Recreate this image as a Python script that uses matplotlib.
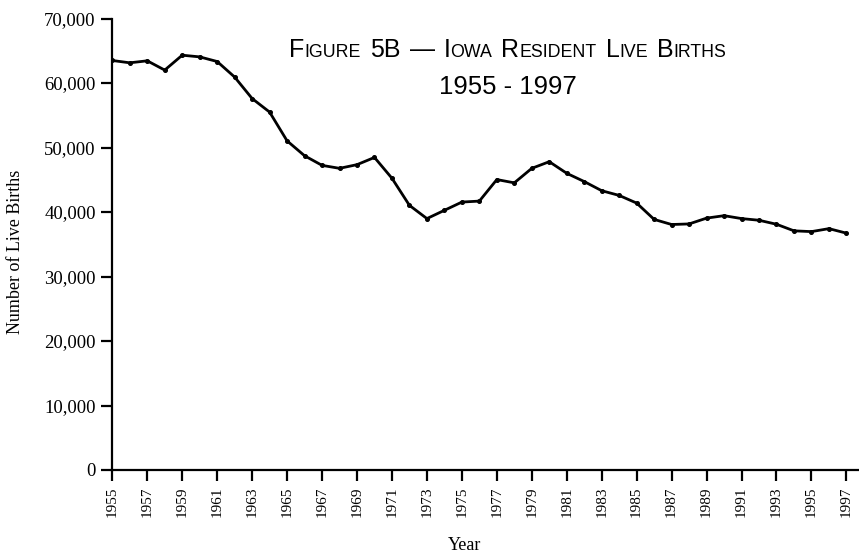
import numpy as np
import matplotlib
matplotlib.use("Agg")
import matplotlib.pyplot as plt
from matplotlib.ticker import FuncFormatter, MultipleLocator
from matplotlib.offsetbox import TextArea, HPacker, AnnotationBbox

years = list(range(1955, 1998))
births = [63490, 63130, 63440, 62000, 64310, 64050, 63330, 60920, 57590, 55490,
          51030, 48720, 47230, 46770, 47340, 48460, 45230, 41030, 38980, 40260,
          41540, 41690, 45030, 44520, 46770, 47800, 46000, 44720, 43300, 42570,
          41380, 38850, 38060, 38150, 39050, 39430, 38980, 38720, 38100, 37080,
          36960, 37420, 36720]
tick_years = years[::2]

title_words = [["F", "IGURE"], ["5B"], ["\u2014"], ["I", "OWA"], ["R", "ESIDENT"],
               ["L", "IVE"], ["B", "IRTHS"]]
subtitle = "1955 - 1997"

serif = ["Liberation Serif", "DejaVu Serif"]
sans = ["Liberation Sans", "DejaVu Sans"]
plt.rcParams["font.family"] = serif

W, H = 859, 554
fig = plt.figure(figsize=(W / 100, H / 100), dpi=100)
ax = fig.add_axes([112.3 / W, 84 / H, (W - 112.3) / W, (470 - 18.5) / H])

ax.plot(years, births, color="black", lw=2.0, marker="o", ms=2.6, zorder=3)

ax.set_xlim(1955, 1997.72)
ax.set_ylim(0, 70000)
for s in ["top", "right"]:
    ax.spines[s].set_visible(False)
for s in ["left", "bottom"]:
    ax.spines[s].set_linewidth(1.6)
ax.set_xticks(tick_years)
ax.yaxis.set_major_locator(MultipleLocator(10000))
ax.yaxis.set_major_formatter(FuncFormatter(lambda v, p: f"{int(v):,}"))
ax.tick_params(direction="out", length=8, width=1.6, pad=4)
ax.tick_params(axis="x", labelrotation=90, labelsize=11)
ax.tick_params(axis="y", labelsize=13.5)

fig.text(465 / W, 1 - 546 / H, "Year", ha="center", va="center", fontsize=13)
fig.text(16 / W, 1 - 252 / H, "Number of Live Births", ha="center", va="center",
         rotation=90, fontsize=13)

# small-caps title built from pieces
words = []
for w in title_words:
    parts = [TextArea(w[0], textprops=dict(family=sans, fontsize=18))]
    if len(w) > 1:
        parts.append(TextArea(w[1], textprops=dict(family=sans, fontsize=12.8)))
    words.append(HPacker(children=parts, sep=0, pad=0, align="baseline"))
row = HPacker(children=words, sep=6.5, pad=0, align="baseline")
ab = AnnotationBbox(row, (508 / W, 1 - 50 / H), xycoords="figure fraction",
                    frameon=False, box_alignment=(0.5, 0.5), pad=0)
fig.add_artist(ab)
fig.text(508 / W, 1 - 86.5 / H, subtitle, ha="center", va="center",
         family=sans, fontsize=18.5)

fig.savefig("out.png", dpi=100)
